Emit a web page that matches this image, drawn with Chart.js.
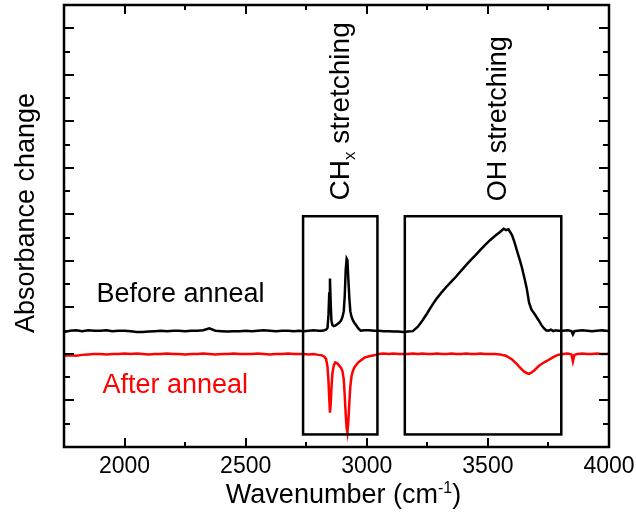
<!DOCTYPE html>
<html>
<head>
<meta charset="utf-8">
<title>Absorbance change</title>
<script src="https://cdn.jsdelivr.net/npm/chart.js@4.4.1/dist/chart.umd.min.js"></script>
<style>
    html, body { margin: 0; padding: 0; background: #ffffff; }
    #wrap { width: 636px; height: 515px; }
</style>
</head>
<body>
<div id="wrap"><canvas id="chartSpektrum" width="636" height="515"></canvas></div>
<script>
// ========================================
// FTIR difference spectra - before / after anneal
// ========================================

// Wavenumber grid (cm-1), finer around the CH and OH bands
const wavenumbers = [
    1750, 1775, 1800, 1825, 1850, 1875, 1900, 1925, 1950, 1975,
    2000, 2025, 2050, 2075, 2100, 2125, 2150, 2175, 2200, 2225,
    2250, 2275, 2300, 2325, 2350, 2375, 2400, 2425, 2450, 2475,
    2500, 2525, 2550, 2575, 2600, 2625, 2650, 2675, 2700,
    2720, 2740, 2760, 2780, 2800, 2815, 2825, 2832, 2838, 2842,
    2845, 2848, 2851, 2854, 2858, 2864, 2870, 2878, 2886, 2894,
    2900, 2905, 2909, 2913, 2917, 2920, 2924, 2928, 2932, 2937,
    2943, 2950, 2957, 2965, 2975, 2990,
    3010, 3030, 3050, 3070, 3090, 3110, 3130, 3150, 3170, 3190,
    3210, 3230, 3250, 3270, 3290, 3310, 3330, 3350, 3370, 3390,
    3410, 3430, 3450, 3470, 3490, 3510, 3530, 3550, 3565, 3575,
    3585, 3600, 3610, 3620, 3630, 3640, 3650, 3660, 3670, 3680,
    3690, 3700, 3710, 3720, 3730, 3740, 3750, 3760, 3770, 3780,
    3790,
    3810, 3830, 3845, 3851, 3857, 3870, 3890, 3910, 3930, 3950,
    3970, 3990, 4000
];

// Black trace (arbitrary units, offset)
const beforeAnneal = [
    2.47, 2.50, 2.51, 2.49, 2.51, 2.50, 2.50, 2.51, 2.49, 2.50,
    2.50, 2.49, 2.47, 2.47, 2.48, 2.49, 2.50, 2.49, 2.50, 2.50,
    2.49, 2.50, 2.50, 2.51, 2.55, 2.50, 2.49, 2.48, 2.49, 2.49,
    2.50, 2.49, 2.50, 2.51, 2.50, 2.49, 2.50, 2.50, 2.49,
    2.50, 2.49, 2.50, 2.51, 2.50, 2.50, 2.51, 2.52, 2.56, 2.85,
    3.30, 3.62, 3.10, 2.72, 2.62, 2.60, 2.61, 2.64, 2.67, 2.72,
    2.80, 2.92, 3.25, 3.80, 4.05, 4.02, 3.60, 3.20, 2.92, 2.80,
    2.72, 2.66, 2.61, 2.55, 2.50, 2.51,
    2.51, 2.50, 2.50, 2.49, 2.49, 2.48, 2.48, 2.47, 2.48, 2.49,
    2.58, 2.72, 2.88, 3.05, 3.20, 3.33, 3.45, 3.56, 3.67, 3.79,
    3.91, 4.02, 4.13, 4.24, 4.35, 4.45, 4.54, 4.62, 4.69, 4.66,
    4.68, 4.55, 4.40, 4.22, 4.05, 3.87, 3.65, 3.42, 3.10, 2.95,
    2.88, 2.80, 2.72, 2.63, 2.56, 2.51, 2.50, 2.52, 2.49, 2.51,
    2.50,
    2.50, 2.51, 2.49, 2.42, 2.49, 2.50, 2.51, 2.50, 2.49, 2.50,
    2.51, 2.50, 2.49
];

// Red trace (arbitrary units, offset)
const afterAnneal = [
    1.96, 1.97, 1.96, 1.98, 1.99, 2.00, 2.00, 1.99, 2.00, 2.00,
    2.01, 2.00, 2.01, 2.00, 1.99, 2.00, 2.00, 2.01, 2.00, 2.00,
    1.99, 2.00, 2.00, 2.01, 2.00, 1.99, 2.00, 2.00, 2.01, 2.00,
    2.00, 2.00, 2.01, 2.00, 1.99, 2.00, 2.00, 2.01, 2.00,
    2.00, 2.00, 1.99, 2.00, 1.98, 1.97, 1.94, 1.89, 1.72, 1.40,
    1.05, 0.74, 0.92, 1.25, 1.58, 1.76, 1.82, 1.80, 1.75, 1.70,
    1.62, 1.45, 1.10, 0.70, 0.40, 0.31, 0.55, 0.95, 1.30, 1.52,
    1.64, 1.72, 1.77, 1.82, 1.86, 1.92,
    1.95, 1.97, 2.00, 2.01, 2.00, 2.01, 2.00, 2.00, 2.00, 2.01,
    2.00, 2.01, 2.00, 2.00, 2.01, 2.00, 2.00, 2.01, 2.00, 2.00,
    2.01, 2.00, 2.00, 2.01, 2.00, 2.00, 2.00, 1.99, 1.97, 1.96,
    1.93, 1.88, 1.83, 1.78, 1.72, 1.67, 1.62, 1.59, 1.57, 1.60,
    1.64, 1.69, 1.74, 1.78, 1.81, 1.84, 1.87, 1.90, 1.93, 1.96,
    1.98,
    2.00, 2.01, 1.99, 1.84, 1.98, 2.00, 2.01, 2.00, 2.00, 2.01,
    2.00, 2.00, 2.01
];

// Axis ticks
const xMajorTicks = [2000, 2500, 3000, 3500, 4000];
const xMinorTicks = [2250, 2750, 3250, 3750];
const yMajorTicks = [1, 2, 3, 4, 5, 6, 7, 8, 9];
const yMinorTicks = [0.5, 1.5, 2.5, 3.5, 4.5, 5.5, 6.5, 7.5, 8.5];

// Band boxes: [wnFrom, wnTo, yFrom, yTo]
const chBox = [2737, 3044, 0.27, 4.96];
const ohBox = [3157, 3803, 0.27, 4.96];

const FONT = '"Liberation Sans", Arial, sans-serif';

/**
 * Draw text made of parts (for sub/superscripts), optionally rotated
 */
function drawParts(ctx, parts, x, y, rotated, color) {
    ctx.save();
    ctx.translate(x, y);
    if (rotated) ctx.rotate(-Math.PI / 2);
    ctx.fillStyle = color;
    ctx.textBaseline = 'alphabetic';
    ctx.textAlign = 'left';
    let cx = 0;
    parts.forEach(function (p) {
        ctx.font = p.size + 'px ' + FONT;
        ctx.fillText(p.text, cx, p.dy || 0);
        cx += ctx.measureText(p.text).width;
    });
    ctx.restore();
}

function partsWidth(ctx, parts) {
    let w = 0;
    parts.forEach(function (p) {
        ctx.font = p.size + 'px ' + FONT;
        w += ctx.measureText(p.text).width;
    });
    return w;
}

/**
 * Frame, inward ticks, band boxes and labels
 */
const decorPlugin = {
    id: 'decor',
    afterDraw: function (chart) {
        const ctx = chart.ctx;
        const a = chart.chartArea;
        const xs = chart.scales.x;
        const ys = chart.scales.y;

        ctx.save();
        ctx.strokeStyle = '#000000';
        ctx.lineCap = 'butt';

        // inward ticks on all four sides
        ctx.lineWidth = 2;
        ctx.beginPath();
        xMajorTicks.concat(xMinorTicks).forEach(function (v) {
            const len = xMajorTicks.includes(v) ? 9 : 5;
            const px = Math.round(xs.getPixelForValue(v));
            ctx.moveTo(px, a.bottom); ctx.lineTo(px, a.bottom - len);
            ctx.moveTo(px, a.top); ctx.lineTo(px, a.top + len);
        });
        yMajorTicks.concat(yMinorTicks).forEach(function (v) {
            const len = yMajorTicks.includes(v) ? 10 : 6;
            const py = Math.round(ys.getPixelForValue(v));
            ctx.moveTo(a.left, py); ctx.lineTo(a.left + len, py);
            ctx.moveTo(a.right, py); ctx.lineTo(a.right - len, py);
        });
        ctx.stroke();

        // band boxes
        ctx.lineWidth = 2.5;
        [chBox, ohBox].forEach(function (b) {
            const x1 = xs.getPixelForValue(b[0]);
            const x2 = xs.getPixelForValue(b[1]);
            const y1 = ys.getPixelForValue(b[3]);
            const y2 = ys.getPixelForValue(b[2]);
            ctx.strokeRect(x1, y1, x2 - x1, y2 - y1);
        });

        // frame
        ctx.lineWidth = 2.5;
        ctx.strokeRect(a.left, a.top, a.right - a.left, a.bottom - a.top);
        ctx.restore();

        // series labels
        drawParts(ctx, [{ text: 'Before anneal', size: 27 }],
            xs.getPixelForValue(1884), ys.getPixelForValue(3.11), false, '#000000');
        drawParts(ctx, [{ text: 'After anneal', size: 27 }],
            xs.getPixelForValue(1909), ys.getPixelForValue(1.16), false, '#ff0000');

        // band labels (rotated)
        drawParts(ctx, [
            { text: 'CH', size: 28 },
            { text: 'x', size: 17, dy: 6 },
            { text: ' stretching', size: 28 }
        ], xs.getPixelForValue(2926), ys.getPixelForValue(5.30), true, '#000000');
        drawParts(ctx, [{ text: 'OH stretching', size: 27 }],
            xs.getPixelForValue(3574), ys.getPixelForValue(5.28), true, '#000000');

        // axis titles
        const xTitle = [
            { text: 'Wavenumber (cm', size: 27 },
            { text: '-1', size: 16, dy: -10 },
            { text: ')', size: 27 }
        ];
        const xw = partsWidth(ctx, xTitle);
        drawParts(ctx, xTitle, (a.left + a.right) / 2 + 7 - xw / 2, a.bottom + 56, false, '#000000');

        const yTitle = [{ text: 'Absorbance change', size: 27 }];
        const yw = partsWidth(ctx, yTitle);
        drawParts(ctx, yTitle, a.left - 30, (a.top + a.bottom) / 2 - 13 + yw / 2, true, '#000000');
    }
};

function initChartSpektrum() {
    const ctx = document.getElementById('chartSpektrum');
    if (!ctx) return;

    new Chart(ctx, {
        type: 'line',
        data: {
            datasets: [{
                label: 'Before anneal',
                data: wavenumbers.map((w, i) => ({ x: w, y: beforeAnneal[i] })),
                borderColor: '#000000',
                borderWidth: 2.5,
                pointRadius: 0,
                tension: 0
            }, {
                label: 'After anneal',
                data: wavenumbers.map((w, i) => ({ x: w, y: afterAnneal[i] })),
                borderColor: '#ff0000',
                borderWidth: 2.5,
                pointRadius: 0,
                tension: 0
            }]
        },
        options: {
            responsive: false,
            devicePixelRatio: 1,
            animation: false,
            layout: { padding: { left: 64, right: 27, top: 5, bottom: 0 } },
            plugins: {
                legend: { display: false },
                tooltip: { enabled: false }
            },
            scales: {
                x: {
                    type: 'linear',
                    min: 1750,
                    max: 4000,
                    grid: { display: false, drawTicks: false },
                    border: { display: false },
                    afterBuildTicks: function (scale) {
                        scale.ticks = xMajorTicks.map(v => ({ value: v }));
                    },
                    afterFit: function (scale) {
                        scale.height = 68;
                        scale.paddingLeft = 0;
                        scale.paddingRight = 0;
                    },
                    ticks: {
                        color: '#000000',
                        padding: 6,
                        maxRotation: 0,
                        autoSkip: false,
                        font: { family: FONT, size: 23 },
                        callback: function (value) { return String(value); }
                    }
                },
                y: {
                    type: 'linear',
                    min: 0,
                    max: 9.5,
                    display: false
                }
            }
        },
        plugins: [decorPlugin]
    });
}

document.addEventListener('DOMContentLoaded', function () {
    try {
        initChartSpektrum();
    } catch (error) {
        console.error('Error initializing chart:', error);
    }
});
</script>
</body>
</html>
